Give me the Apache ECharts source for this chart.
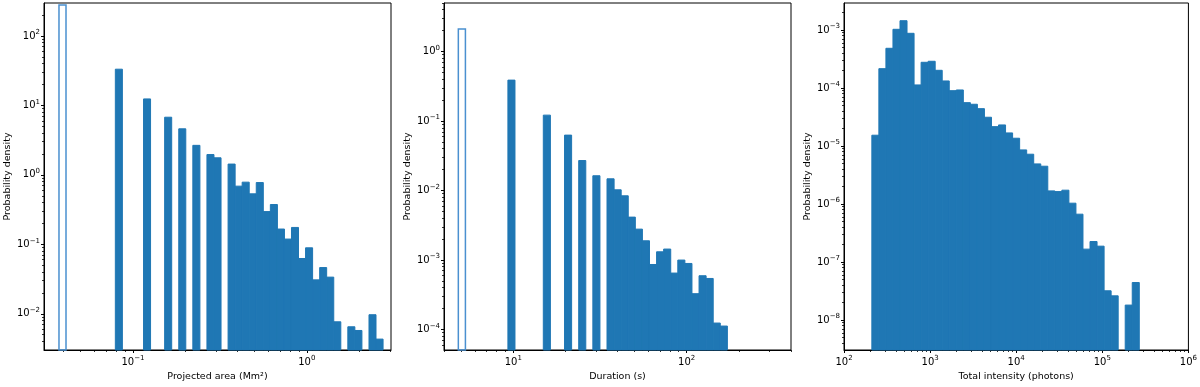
<!DOCTYPE html>
<html>
<head>
<meta charset="utf-8">
<script src="https://cdn.jsdelivr.net/npm/echarts@6/dist/echarts.min.js"></script>
<style>
html, body { margin: 0; padding: 0; background: #fff; }
#chart { width: 1200px; height: 387px; }
</style>
</head>
<body>
<div id="chart"></div>
<script>
// projected area histogram
const areaEdges = [0.03756, 0.04122, 0.04524, 0.04968, 0.05454, 0.05988, 0.06574, 0.07217, 0.07922, 0.08697,
    0.09548, 0.1048, 0.1151, 0.1263, 0.1387, 0.1522, 0.1671, 0.1835, 0.2014, 0.2211, 0.2428, 0.2665, 0.2925,
    0.3212, 0.3526, 0.3871, 0.4249, 0.4665, 0.5121, 0.5622, 0.6172, 0.6776, 0.7439, 0.8166, 0.8960, 0.9838,
    1.080, 1.186, 1.301, 1.429, 1.569, 1.722, 1.890, 2.075, 2.279, 2.501, 2.746];
const areaDensity = [null, null, null, null, null, null, null, null, 33.2, null, null, null, 12.4, null, null,
    6.76, null, 4.6, null, 2.66, null, 1.96, 1.76, null, 1.43, 0.688, 0.785, 0.533, 0.775, 0.296, 0.374, 0.166,
    0.119, 0.175, 0.0625, 0.0891, 0.0308, 0.0463, 0.0337, 0.00767, null, 0.0065, 0.00575, null, 0.00969, 0.00432];
const areaStepEdges = [0.03756, 0.04122];
const areaStepDensity = [280];
const areaXRange = [0.0308, 3.05];
const areaYRange = [0.00301, 298];
const areaXTicks = [0.1, 1];
const areaYTicks = [0.01, 0.1, 1, 10, 100];

// duration histogram
const durEdges = [4.815, 5.290, 5.811, 6.386, 7.015, 7.708, 8.468, 9.303, 10.22, 11.23, 12.34, 13.55, 14.89,
    16.36, 17.97, 19.74, 21.69, 23.83, 26.18, 28.76, 31.60, 34.71, 38.14, 41.90, 46.03, 50.57, 55.55, 61.03,
    67.05, 73.66, 80.92, 88.91, 97.68, 107.3, 117.9, 129.5, 142.3, 156.3, 171.8];
const durDensity = [null, null, null, null, null, null, null, 0.388, null, null, null, null, 0.1216, null, null,
    0.0627, null, 0.0270, null, 0.0163, null, 0.01473, 0.01023, 0.00839, 0.00414, 0.00278, 0.00189, 0.000861,
    0.001312, 0.001435, 0.000648, 0.000997, 0.000891, 0.000327, 0.000593, 0.000542, 0.0001236, 0.0001119];
const durStepEdges = [4.815, 5.290];
const durStepDensity = [2.12];
const durXRange = [3.98, 400];
const durYRange = [5.06e-5, 5.0];
const durXTicks = [10, 100];
const durYTicks = [1e-4, 1e-3, 1e-2, 1e-1, 1];

// total intensity histogram
const intEdges = [210.6, 254.1, 306.8, 370.3, 447.0, 539.5, 651.2, 786.1, 948.9, 1145.5, 1382.6, 1669.0,
    2014.7, 2432, 2936, 3543, 4277, 5164, 6233, 7523, 9081, 10960, 13230, 15970, 19280, 23270, 28090, 33910,
    40930, 49410, 59640, 71990, 86900, 104900, 126600, 152900, 184500, 222700, 268800];
const intDensity = [1.536e-5, 2.156e-4, 4.84e-4, 1.028e-3, 1.446e-3, 8.77e-4, 1.13e-4, 2.777e-4, 2.89e-4,
    2.02e-4, 1.324e-4, 9.0e-5, 9.26e-5, 5.6e-5, 5.25e-5, 4.41e-5, 3.135e-5, 2.16e-5, 2.31e-5, 1.683e-5,
    1.363e-5, 8.58e-6, 7.23e-6, 4.92e-6, 4.49e-6, 1.686e-6, 1.64e-6, 1.734e-6, 1.035e-6, 6.69e-7, 1.671e-7,
    2.26e-7, 1.88e-7, 3.2e-8, 2.62e-8, null, 1.813e-8, 4.44e-8];
const intXRange = [100, 1e6];
const intYRange = [3.05e-9, 2.92e-3];
const intXTicks = [1e2, 1e3, 1e4, 1e5, 1e6];
const intYTicks = [1e-8, 1e-7, 1e-6, 1e-5, 1e-4, 1e-3];

const FONT = 'DejaVu Sans';

const panels = [
    {edges: areaEdges, density: areaDensity, stepEdges: areaStepEdges, stepDensity: areaStepDensity,
        xRange: areaXRange, yRange: areaYRange, xTicks: areaXTicks, yTicks: areaYTicks,
        xName: 'Projected area (Mm²)'},
    {edges: durEdges, density: durDensity, stepEdges: durStepEdges, stepDensity: durStepDensity,
        xRange: durXRange, yRange: durYRange, xTicks: durXTicks, yTicks: durYTicks,
        xName: 'Duration (s)'},
    {edges: intEdges, density: intDensity, stepEdges: null, stepDensity: null,
        xRange: intXRange, yRange: intYRange, xTicks: intXTicks, yTicks: intYTicks,
        xName: 'Total intensity (photons)'}
];

function minorTicks(range) {
    let out = [];
    for (let e = Math.floor(Math.log10(range[0])); e <= Math.ceil(Math.log10(range[1])); e++) {
        for (let k = 2; k <= 9; k++) {
            let v = k * Math.pow(10, e);
            if (v >= range[0] && v <= range[1]) out.push(v);
        }
    }
    return out;
}

function powLabel(v) {
    let e = Math.round(Math.log10(v));
    return '{b|10}{s|' + String(e).replace('-', '\u2212') + '}';
}

const labelRich = {
    b: {fontSize: 10, lineHeight: 14, fontFamily: FONT, color: '#000'},
    s: {fontSize: 7, lineHeight: 8, verticalAlign: 'top', fontFamily: FONT, color: '#000'}
};

function makeAxes(i, range, ticks, dim, name) {
    let isX = dim === 'x';
    let major = {
        type: 'log', gridIndex: i, position: isX ? 'bottom' : 'left',
        min: range[0], max: range[1],
        name: name, nameLocation: 'middle', nameGap: isX ? 20 : 31,
        nameRotate: isX ? 0 : 90,
        nameTextStyle: {fontSize: 9.5, color: '#000', fontFamily: FONT},
        axisLine: {show: true, onZero: false, lineStyle: {color: '#000', width: 1}},
        axisTick: {show: true, length: 3, customValues: ticks, lineStyle: {color: '#000', width: 1}},
        axisLabel: {customValues: ticks, formatter: powLabel, rich: labelRich, margin: isX ? 5 : 4},
        splitLine: {show: false}
    };
    let minor = {
        type: 'log', gridIndex: i, position: isX ? 'bottom' : 'left',
        min: range[0], max: range[1],
        axisLine: {show: false},
        axisTick: {show: true, length: 2, customValues: minorTicks(range), lineStyle: {color: '#000', width: 0.8}},
        axisLabel: {show: false},
        splitLine: {show: false}
    };
    return [major, minor];
}

function histSeries(i, edges, density, yMin, outline) {
    let items = [];
    for (let k = 0; k < density.length; k++) {
        if (density[k] != null) items.push([edges[k], edges[k + 1], density[k]]);
    }
    return {
        type: 'custom',
        xAxisIndex: 2 * i, yAxisIndex: 2 * i,
        encode: {x: [0, 1], y: 2},
        silent: true,
        data: items,
        renderItem: function (params, api) {
            let top = api.coord([api.value(0), api.value(2)]);
            let bot = api.coord([api.value(1), yMin]);
            return {
                type: 'rect',
                shape: {x: top[0], y: top[1], width: bot[0] - top[0], height: bot[1] - top[1]},
                style: outline
                    ? {fill: 'none', stroke: '#4a90d0', lineWidth: 1.5}
                    : {fill: '#1f77b4', stroke: '#1f77b4', lineWidth: 1}
            };
        }
    };
}

let grids = [], xAxes = [], yAxes = [], series = [];
panels.forEach((p, i) => {
    grids.push({left: 44 + 400 * i, top: 3, width: 347, height: 347,
        show: true, borderColor: '#000', borderWidth: 1});
    xAxes.push(...makeAxes(i, p.xRange, p.xTicks, 'x', p.xName));
    yAxes.push(...makeAxes(i, p.yRange, p.yTicks, 'y', 'Probability density'));
    series.push(histSeries(i, p.edges, p.density, p.yRange[0], false));
    if (p.stepEdges) series.push(histSeries(i, p.stepEdges, p.stepDensity, p.yRange[0], true));
});

let chart = echarts.init(document.getElementById('chart'));
chart.setOption({
    animation: false,
    backgroundColor: '#ffffff',
    grid: grids,
    xAxis: xAxes,
    yAxis: yAxes,
    series: series
});
</script>
</body>
</html>
